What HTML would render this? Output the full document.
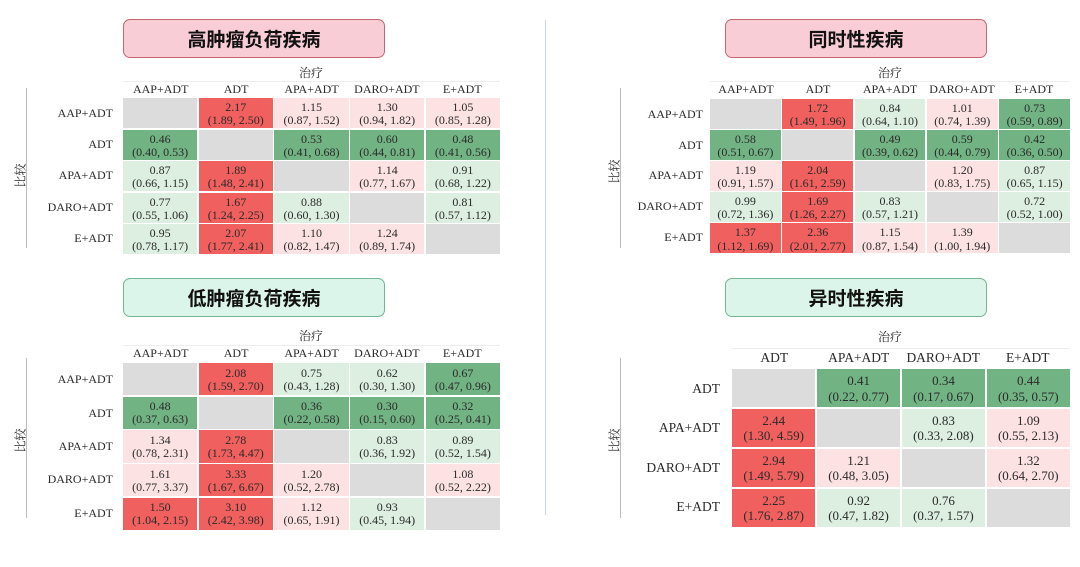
<!DOCTYPE html>
<html><head><meta charset="utf-8"><style>
*{margin:0;padding:0;box-sizing:border-box}
body{width:1080px;height:567px;background:#fff;position:relative;overflow:hidden;font-family:"Liberation Serif","Noto Serif CJK SC",serif;color:#2a2a2a}
.t{position:absolute;height:39px;border-radius:7px;font-family:"Liberation Sans","Noto Sans CJK SC",sans-serif;font-weight:bold;font-size:19px;display:flex;align-items:center;justify-content:center;color:#111}
.tp{background:#f9cdd6;border:1.5px solid #c46670}
.tg{background:#dcf5ea;border:1.5px solid #72b592}
.g{position:absolute;display:grid;gap:1.5px;background:#fff}
.g div{display:block;text-align:center;line-height:1.1}
.s div{font-size:12px;padding-top:3px}
.s3 div{padding-top:3.5px}
.b div{font-size:13px;line-height:1.2;padding-top:4px}
.x{background:#dcdcdc}.r{background:#f0605e}.p{background:#fde2e3}.l{background:#dcefe0}.gg{background:#72b384}
.h{position:absolute;display:grid;font-size:12px;text-align:center;border-top:1px solid #eee}
.rl{position:absolute;display:grid;text-align:right;font-size:12px}
.rl div{display:flex;align-items:center;justify-content:flex-end}
.vl{position:absolute;width:1px;background:#bbb}
.cmp{position:absolute;font-size:12px;transform:rotate(-90deg);font-family:"Noto Serif CJK SC",serif}
.tr{position:absolute;font-size:12px;font-family:"Noto Serif CJK SC",serif}
</style></head><body>
<div style="position:absolute;left:545px;top:20px;width:1px;height:495px;background:#c9d6e3"></div>

<!-- Panel 1 -->
<div class="t tp" style="left:123px;top:19px;width:262px">高肿瘤负荷疾病</div>
<div class="tr" style="left:299px;top:64px">治疗</div>
<div class="h" style="left:123px;top:81px;width:377px;grid-template-columns:repeat(5,1fr)"><div>AAP+ADT</div><div>ADT</div><div>APA+ADT</div><div>DARO+ADT</div><div>E+ADT</div></div>
<div class="vl" style="left:26px;top:88px;height:160px"></div>
<div class="cmp" style="left:8px;top:167px">比较</div>
<div class="rl" style="left:40px;top:98px;width:73px;height:156px;grid-template-rows:repeat(5,1fr)"><div>AAP+ADT</div><div>ADT</div><div>APA+ADT</div><div>DARO+ADT</div><div>E+ADT</div></div>
<div class="g s" style="left:123px;top:98px;width:377px;height:156px;grid-template-columns:repeat(5,1fr);grid-template-rows:repeat(5,1fr)">
<div class="x"></div><div class="r">2.17<br>(1.89, 2.50)</div><div class="p">1.15<br>(0.87, 1.52)</div><div class="p">1.30<br>(0.94, 1.82)</div><div class="p">1.05<br>(0.85, 1.28)</div>
<div class="gg">0.46<br>(0.40, 0.53)</div><div class="x"></div><div class="gg">0.53<br>(0.41, 0.68)</div><div class="gg">0.60<br>(0.44, 0.81)</div><div class="gg">0.48<br>(0.41, 0.56)</div>
<div class="l">0.87<br>(0.66, 1.15)</div><div class="r">1.89<br>(1.48, 2.41)</div><div class="x"></div><div class="p">1.14<br>(0.77, 1.67)</div><div class="l">0.91<br>(0.68, 1.22)</div>
<div class="l">0.77<br>(0.55, 1.06)</div><div class="r">1.67<br>(1.24, 2.25)</div><div class="l">0.88<br>(0.60, 1.30)</div><div class="x"></div><div class="l">0.81<br>(0.57, 1.12)</div>
<div class="l">0.95<br>(0.78, 1.17)</div><div class="r">2.07<br>(1.77, 2.41)</div><div class="p">1.10<br>(0.82, 1.47)</div><div class="p">1.24<br>(0.89, 1.74)</div><div class="x"></div>
</div>

<!-- Panel 2 -->
<div class="t tp" style="left:725px;top:19px;width:262px">同时性疾病</div>
<div class="tr" style="left:878px;top:64px">治疗</div>
<div class="h" style="left:710px;top:81px;width:360px;grid-template-columns:repeat(5,1fr)"><div>AAP+ADT</div><div>ADT</div><div>APA+ADT</div><div>DARO+ADT</div><div>E+ADT</div></div>
<div class="vl" style="left:620px;top:88px;height:160px"></div>
<div class="cmp" style="left:602px;top:163px">比较</div>
<div class="rl" style="left:630px;top:99px;width:73px;height:154px;grid-template-rows:repeat(5,1fr)"><div>AAP+ADT</div><div>ADT</div><div>APA+ADT</div><div>DARO+ADT</div><div>E+ADT</div></div>
<div class="g s" style="left:710px;top:99px;width:360px;height:154px;grid-template-columns:repeat(5,1fr);grid-template-rows:repeat(5,1fr)">
<div class="x"></div><div class="r">1.72<br>(1.49, 1.96)</div><div class="l">0.84<br>(0.64, 1.10)</div><div class="p">1.01<br>(0.74, 1.39)</div><div class="gg">0.73<br>(0.59, 0.89)</div>
<div class="gg">0.58<br>(0.51, 0.67)</div><div class="x"></div><div class="gg">0.49<br>(0.39, 0.62)</div><div class="gg">0.59<br>(0.44, 0.79)</div><div class="gg">0.42<br>(0.36, 0.50)</div>
<div class="p">1.19<br>(0.91, 1.57)</div><div class="r">2.04<br>(1.61, 2.59)</div><div class="x"></div><div class="p">1.20<br>(0.83, 1.75)</div><div class="l">0.87<br>(0.65, 1.15)</div>
<div class="l">0.99<br>(0.72, 1.36)</div><div class="r">1.69<br>(1.26, 2.27)</div><div class="l">0.83<br>(0.57, 1.21)</div><div class="x"></div><div class="l">0.72<br>(0.52, 1.00)</div>
<div class="r">1.37<br>(1.12, 1.69)</div><div class="r">2.36<br>(2.01, 2.77)</div><div class="p">1.15<br>(0.87, 1.54)</div><div class="p">1.39<br>(1.00, 1.94)</div><div class="x"></div>
</div>

<!-- Panel 3 -->
<div class="t tg" style="left:123px;top:278px;width:262px">低肿瘤负荷疾病</div>
<div class="tr" style="left:299px;top:327px">治疗</div>
<div class="h" style="left:123px;top:345px;width:377px;grid-template-columns:repeat(5,1fr)"><div>AAP+ADT</div><div>ADT</div><div>APA+ADT</div><div>DARO+ADT</div><div>E+ADT</div></div>
<div class="vl" style="left:26px;top:358px;height:160px"></div>
<div class="cmp" style="left:8px;top:432px">比较</div>
<div class="rl" style="left:40px;top:363px;width:73px;height:167px;grid-template-rows:repeat(5,1fr)"><div>AAP+ADT</div><div>ADT</div><div>APA+ADT</div><div>DARO+ADT</div><div>E+ADT</div></div>
<div class="g s s3" style="left:123px;top:363px;width:377px;height:167px;grid-template-columns:repeat(5,1fr);grid-template-rows:repeat(5,1fr)">
<div class="x"></div><div class="r">2.08<br>(1.59, 2.70)</div><div class="l">0.75<br>(0.43, 1.28)</div><div class="l">0.62<br>(0.30, 1.30)</div><div class="gg">0.67<br>(0.47, 0.96)</div>
<div class="gg">0.48<br>(0.37, 0.63)</div><div class="x"></div><div class="gg">0.36<br>(0.22, 0.58)</div><div class="gg">0.30<br>(0.15, 0.60)</div><div class="gg">0.32<br>(0.25, 0.41)</div>
<div class="p">1.34<br>(0.78, 2.31)</div><div class="r">2.78<br>(1.73, 4.47)</div><div class="x"></div><div class="l">0.83<br>(0.36, 1.92)</div><div class="l">0.89<br>(0.52, 1.54)</div>
<div class="p">1.61<br>(0.77, 3.37)</div><div class="r">3.33<br>(1.67, 6.67)</div><div class="p">1.20<br>(0.52, 2.78)</div><div class="x"></div><div class="p">1.08<br>(0.52, 2.22)</div>
<div class="r">1.50<br>(1.04, 2.15)</div><div class="r">3.10<br>(2.42, 3.98)</div><div class="p">1.12<br>(0.65, 1.91)</div><div class="l">0.93<br>(0.45, 1.94)</div><div class="x"></div>
</div>

<!-- Panel 4 -->
<div class="t tg" style="left:725px;top:278px;width:262px">异时性疾病</div>
<div class="tr" style="left:878px;top:328px">治疗</div>
<div class="h" style="left:732px;top:348px;width:338px;grid-template-columns:repeat(4,1fr);font-size:13.5px;padding-top:1px"><div>ADT</div><div>APA+ADT</div><div>DARO+ADT</div><div>E+ADT</div></div>
<div class="vl" style="left:620px;top:358px;height:160px"></div>
<div class="cmp" style="left:602px;top:432px">比较</div>
<div class="rl" style="left:630px;top:369px;width:90px;height:158px;grid-template-rows:repeat(4,1fr);font-size:13.5px"><div>ADT</div><div>APA+ADT</div><div>DARO+ADT</div><div>E+ADT</div></div>
<div class="g b" style="left:732px;top:369px;width:338px;height:158px;grid-template-columns:repeat(4,1fr);grid-template-rows:repeat(4,1fr)">
<div class="x"></div><div class="gg">0.41<br>(0.22, 0.77)</div><div class="gg">0.34<br>(0.17, 0.67)</div><div class="gg">0.44<br>(0.35, 0.57)</div>
<div class="r">2.44<br>(1.30, 4.59)</div><div class="x"></div><div class="l">0.83<br>(0.33, 2.08)</div><div class="p">1.09<br>(0.55, 2.13)</div>
<div class="r">2.94<br>(1.49, 5.79)</div><div class="p">1.21<br>(0.48, 3.05)</div><div class="x"></div><div class="p">1.32<br>(0.64, 2.70)</div>
<div class="r">2.25<br>(1.76, 2.87)</div><div class="l">0.92<br>(0.47, 1.82)</div><div class="l">0.76<br>(0.37, 1.57)</div><div class="x"></div>
</div>
</body></html>
